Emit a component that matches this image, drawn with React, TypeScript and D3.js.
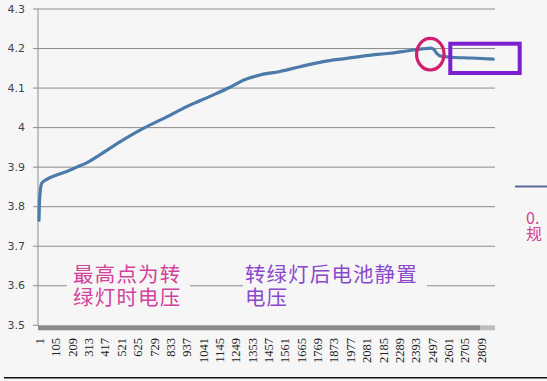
import React from "react";
import * as d3 from "d3";

// ---- data ----
const pointCount = 2890;
const sampleIndex = [1, 3, 8, 18, 50, 113, 177, 241, 304, 368, 516, 664, 813, 940, 1088, 1215, 1300, 1406, 1533, 1660, 1808, 1957, 2084, 2232, 2359, 2434, 2497, 2515, 2529, 2561, 2625, 2752, 2889];
const sampleVoltage = [3.766, 3.8, 3.835, 3.859, 3.869, 3.88, 3.889, 3.9, 3.911, 3.926, 3.964, 3.998, 4.027, 4.053, 4.079, 4.102, 4.12, 4.133, 4.142, 4.154, 4.167, 4.175, 4.182, 4.188, 4.195, 4.199, 4.201, 4.196, 4.188, 4.18, 4.178, 4.176, 4.173];
const yTicks = [3.5, 3.6, 3.7, 3.8, 3.9, 4, 4.1, 4.2, 4.3];
const xTickLabels = [1, 105, 209, 313, 417, 521, 625, 729, 833, 937, 1041, 1145, 1249, 1353, 1457, 1561, 1665, 1769, 1873, 1977, 2081, 2185, 2289, 2393, 2497, 2601, 2705, 2809];
const noteLeft = ["最高点为转", "绿灯时电压"];
const noteRight = ["转绿灯后电池静置", "电压"];
const cutNote = ["0.", "规"];

const W = 547;
const H = 381;
const BG = "#f6f6f6";

export default function App() {
  const x = d3.scaleLinear().domain([1, pointCount]).range([39, 493.4]);
  const y = d3.scaleLinear().domain([3.5, 4.3]).range([325.3, 9]);
  const pts = sampleIndex.map((i, k) => [i, sampleVoltage[k]] as [number, number]);
  const line = d3
    .line<[number, number]>()
    .x((d) => x(d[0]))
    .y((d) => y(d[1]))
    .curve(d3.curveMonotoneX);
  const cjk = "'Noto Sans CJK SC', 'Noto Sans', sans-serif";
  return (
    <svg
      width={W}
      height={H}
      style={{ position: "absolute", left: 0, top: 0, display: "block" }}
    >
      <rect x={0} y={0} width={W} height={H} fill={BG} />
      {/* gridlines + ticks */}
      {yTicks.map((t) => (
        <g key={t}>
          {t > 3.5 && (
            <line x1={33} x2={495} y1={y(t)} y2={y(t)} stroke="#8c8c8c" strokeWidth={1} />
          )}
          {t === 3.5 && <line x1={33} x2={38} y1={y(t)} y2={y(t)} stroke="#8c8c8c" strokeWidth={1} />}
          <text
            x={25}
            y={y(t)}
            textAnchor="end"
            dominantBaseline="central"
            fontFamily="'DejaVu Sans', sans-serif"
            fontSize={11}
            fill="#444"
          >
            {String(t)}
          </text>
        </g>
      ))}
      {/* left axis */}
      <line x1={38} x2={38} y1={y(4.3)} y2={y(3.5)} stroke="#8c8c8c" strokeWidth={1} />
      {/* dense category tick band */}
      <rect x={38} y={325.3} width={442} height={5} fill="#8a8a8a" />
      <rect x={480} y={325.3} width={15} height={5} fill="#bdbdbd" />
      {/* x labels */}
      {xTickLabels.map((t) => (
        <text
          key={t}
          transform={`translate(${x(t) + 1},338) rotate(-90)`}
          textAnchor="end"
          dominantBaseline="central"
          fontFamily="'Liberation Serif', serif"
          fontSize={12.5}
          fill="#222"
        >
          {t}
        </text>
      ))}
      {/* annotation boxes */}
      <rect x={67} y={262} width={123} height={44} fill={BG} />
      <rect x={243} y={262} width={184} height={44} fill={BG} />
      {noteLeft.map((s, k) => (
        <text
          key={s}
          x={73}
          y={273 + k * 23}
          dominantBaseline="central"
          fontFamily={cjk}
          fontSize={20.5}
          letterSpacing={1.2}
          fill="#d2429a"
        >
          {s}
        </text>
      ))}
      {noteRight.map((s, k) => (
        <text
          key={s}
          x={245}
          y={273 + k * 23}
          dominantBaseline="central"
          fontFamily={cjk}
          fontSize={20.5}
          letterSpacing={1.1}
          fill="#8a48cc"
        >
          {s}
        </text>
      ))}
      {/* data line */}
      <path d={line(pts) ?? ""} fill="none" stroke="#4c7aa9" strokeWidth={3.2} strokeLinejoin="round" strokeLinecap="round" />
      {/* highlights */}
      <ellipse cx={430.3} cy={54.2} rx={13.7} ry={15.8} fill="none" stroke="#cf1f6e" strokeWidth={3.2} />
      <rect x={450.3} y={43.7} width={69.4} height={29.3} fill="none" stroke="#7b1fd1" strokeWidth={4} />
      {/* cut-off legend on the right */}
      <line x1={515} x2={547} y1={186.5} y2={186.5} stroke="#5a6a9a" strokeWidth={2} />
      {cutNote.map((s, k) => (
        <text
          key={s}
          x={526}
          y={217 + k * 16}
          dominantBaseline="central"
          fontFamily={cjk}
          fontSize={16}
          fill="#d0468f"
        >
          {s}
        </text>
      ))}
      {/* bottom rule */}
      <line x1={4} x2={547} y1={377.8} y2={377.8} stroke="#111" strokeWidth={1.5} />
    </svg>
  );
}
